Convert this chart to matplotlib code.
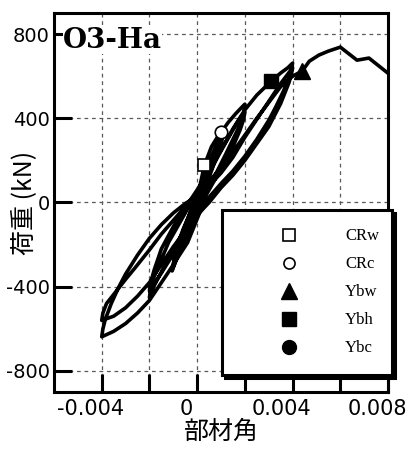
import matplotlib
matplotlib.use('Agg')
import matplotlib.pyplot as plt
import matplotlib.transforms as mtransforms
from matplotlib.lines import Line2D
import numpy as np

# drift angle in 1e-3 rad, load in kN
virgin_x = [0, 0.1, 0.3, 0.6, 0.9, 1.1]
virgin_y = [0, 70, 176, 265, 320, 345]

cyc1_x = [1.05, 0.9, 0.6, 0.3, 0, -0.3, -0.6, -0.85, -1.05,
          -1.0, -0.85, -0.6, -0.3, 0, 0.3, 0.6, 0.9, 1.1,
          1.05, 0.9, 0.6, 0.3, 0, -0.3, -0.6, -0.85, -1.0,
          -0.95, -0.8, -0.5, -0.2, 0.1, 0.4, 0.7, 1.0, 1.3, 1.6, 1.85, 2.0]
cyc1_y = [320, 270, 180, 90, 0, -95, -185, -265, -325,
          -290, -215, -130, -50, 30, 120, 205, 280, 330,
          300, 245, 150, 60, -30, -120, -205, -265, -305,
          -270, -200, -110, -20, 70, 160, 245, 333, 380, 420, 450, 467]

cyc2_x = [1.95, 1.8, 1.5, 1.2, 0.8, 0.4, 0, -0.5, -1.0, -1.5, -1.8, -2.0,
          -1.95, -1.8, -1.5, -1.2, -0.8, -0.4, 0, 0.5, 1.0, 1.5, 1.8, 2.0,
          1.95, 1.8, 1.5, 1.0, 0.5, 0, -0.5, -1.0, -1.5, -1.8, -2.0,
          -1.95, -1.8, -1.5, -1.0, -0.5, 0, 0.5, 1.0, 1.5, 2.0, 2.5, 3.1,
          3.5, 3.8, 4.0]
cyc2_y = [420, 370, 300, 230, 140, 55, -25, -120, -225, -330, -395, -452,
          -410, -350, -270, -190, -110, -30, 40, 140, 245, 345, 400, 430,
          395, 345, 265, 160, 60, -40, -140, -245, -335, -385, -420,
          -380, -320, -220, -115, -25, 60, 150, 250, 350, 440, 510, 576,
          615, 640, 662]

cyc3_x = [3.95, 3.85, 3.6, 3.3, 3.0, 2.5, 2.0, 1.5, 1.0, 0.5, 0.1, -0.4,
          -1.2, -2.0, -2.5, -3.0, -3.5, -4.0,
          -3.95, -3.85, -3.6, -3.3, -3.0, -2.5, -2.0, -1.5, -1.0, -0.5, 0,
          0.5, 1.0, 1.5, 2.0, 2.5, 3.0, 3.5, 3.8, 4.0,
          3.95, 3.85, 3.5, 3.0, 2.5, 2.0, 1.5, 1.0, 0.5, 0, -0.5, -1.0,
          -1.5, -2.0, -2.5, -3.0, -3.5, -4.0]
cyc3_y = [625, 590, 525, 455, 390, 300, 220, 150, 90, 25, -50, -190,
          -330, -465, -525, -575, -612, -638,
          -600, -555, -480, -405, -340, -250, -170, -105, -50, -5, 30,
          80, 140, 215, 310, 395, 480, 565, 610, 640,
          610, 570, 470, 360, 280, 200, 130, 70, 0, -60, -135, -210,
          -295, -380, -445, -500, -540, -560]

final_x = [-3.95, -3.8, -3.45, -3.0, -2.6, -2.0, -1.5, -1.0, -0.5, 0,
           0.5, 1.0, 1.5, 2.0, 2.5, 3.0, 3.5, 4.0, 4.4,
           4.7, 5.1, 5.5, 6.0, 6.7, 7.2, 8.0]
final_y = [-525, -480, -430, -365, -310, -225, -150, -85, -20, 40,
           100, 165, 240, 320, 400, 475, 550, 600, 624,
           671, 700, 719, 738, 676, 686, 614]

# characteristic points (drift 1e-3 rad, kN)
crw = (0.3, 176)
crc = (1.0, 333)
ybw = (4.4, 624)
ybh = (3.1, 576)
ybc = None  # not reached

drift = np.array(virgin_x + cyc1_x + cyc2_x + cyc3_x + final_x) * 1e-3
load = np.array(virgin_y + cyc1_y + cyc2_y + cyc3_y + final_y)

fig = plt.figure(figsize=(4.11, 4.49), dpi=100)
ax = fig.add_axes([0.1314, 0.127, 0.8127, 0.844])

ax.plot(drift, load, color='black', lw=2.6, solid_joinstyle='round',
        solid_capstyle='round', zorder=3)

mk = dict(ls='none', color='black', mec='black', zorder=4)
ax.plot(crw[0] * 1e-3, crw[1], marker='s', ms=9, mfc='white', mew=1.2, **mk)
ax.plot(crc[0] * 1e-3, crc[1], marker='o', ms=9, mfc='white', mew=1.2, **mk)
ax.plot(ybh[0] * 1e-3, ybh[1], marker='s', ms=10, mfc='black', **mk)
ax.plot(ybw[0] * 1e-3, ybw[1], marker='^', ms=12, mfc='black', **mk)

ax.set_xlim(-0.006, 0.008)
ax.set_ylim(-900, 900)
ax.set_xticks([-0.004, -0.002, 0, 0.002, 0.004, 0.006, 0.008])
ax.set_xticklabels(['-0.004', '', '0', '', '0.004', '', '0.008'])
ax.set_yticks([800, 400, 0, -400, -800])
ax.set_yticklabels(['800', '400', '0', '-400', '-800'])
ax.tick_params(direction='in', length=13, width=2.2)
ax.tick_params(axis='x', pad=5, labelsize=15)
ax.tick_params(axis='y', pad=3, labelsize=14)
shift = mtransforms.ScaledTranslation(-0.11, 0, fig.dpi_scale_trans)
for lab in ax.get_xticklabels():
    lab.set_transform(lab.get_transform() + shift)
for s in ax.spines.values():
    s.set_linewidth(2.2)
ax.grid(True, ls=(0, (3, 3)), color='0.35', lw=0.9, zorder=0)
ax.set_axisbelow(True)

cjk = ['Noto Sans CJK JP', 'DejaVu Sans']
ax.set_xlabel('部材角', family=cjk, fontsize=18, labelpad=0)
ax.set_ylabel('荷重 (kN)', family=cjk, fontsize=18)
ax.yaxis.set_label_coords(-0.052, 0.5)

ax.text(0.027, 0.908, 'O3-Ha', transform=ax.transAxes, family='DejaVu Serif',
        fontweight='bold', fontsize=20, va='baseline', ha='left', zorder=5,
        bbox=dict(facecolor='white', edgecolor='none', pad=0))

handles = [
    Line2D([], [], ls='none', marker='s', ms=8, mfc='white', mec='black', mew=1.2),
    Line2D([], [], ls='none', marker='o', ms=8, mfc='white', mec='black', mew=1.2),
    Line2D([], [], ls='none', marker='^', ms=12, mfc='black', mec='black'),
    Line2D([], [], ls='none', marker='s', ms=10, mfc='black', mec='black'),
    Line2D([], [], ls='none', marker='o', ms=10, mfc='black', mec='black'),
]
labels = ['CRw', 'CRc', 'Ybw', 'Ybh', 'Ybc']
leg = ax.legend(handles, labels, loc='upper left',
                bbox_to_anchor=(0.503, 0.0, 0.509, 0.480), mode='expand',
                borderaxespad=0, prop={'family': 'Liberation Serif', 'size': 12},
                handlelength=5.8, handletextpad=0.48, borderpad=1.1,
                labelspacing=0.72, numpoints=1, fancybox=False,
                shadow={'color': 'black', 'alpha': 1}, framealpha=1)
leg.get_frame().set_edgecolor('black')
leg.get_frame().set_linewidth(2.2)
leg.set_zorder(6)

fig.savefig('out.png', dpi=100)
